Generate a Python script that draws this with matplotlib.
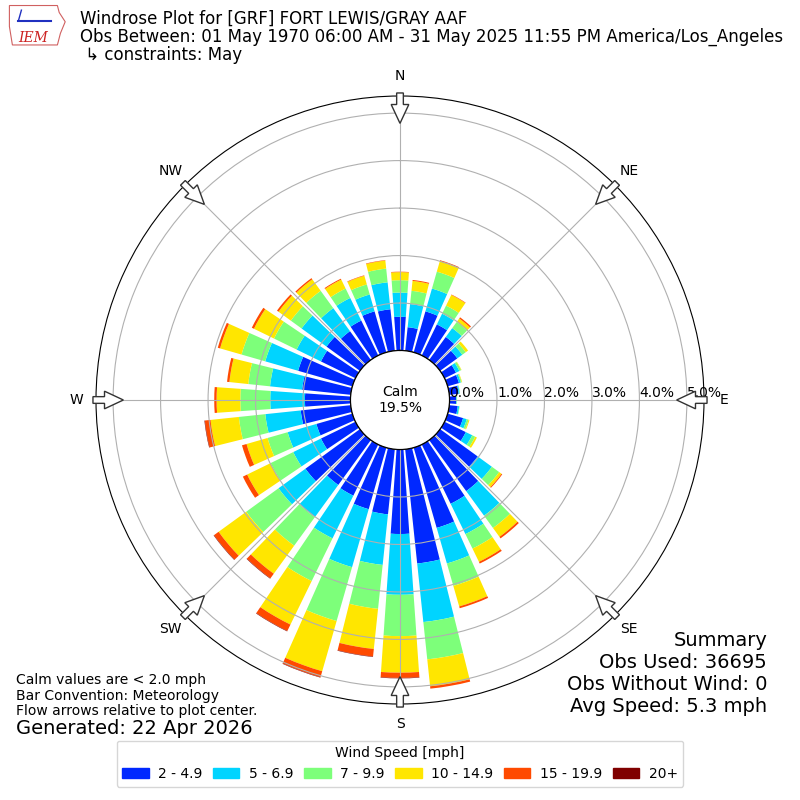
import numpy as np
import matplotlib
matplotlib.use("Agg")
import matplotlib.pyplot as plt
from matplotlib.patches import Patch, FancyArrow, Polygon

# wind directions (deg, meteorological) and the share [%] of each speed bin
directions = list(range(0, 360, 10))
speed_labels = ["2 - 4.9", "5 - 6.9", "7 - 9.9", "10 - 14.9", "15 - 19.9", "20+"]
speed_colors = ["#0028ff", "#00d4ff", "#7dff7a", "#ffe600", "#ff4a00", "#800000"]

s_2_5 = [0.71, 0.50, 0.90, 0.73, 0.60, 0.45, 0.27, 0.25, 0.20, 0.14, 0.18, 0.34,
         0.50, 0.98, 1.33, 1.39, 1.76, 2.42, 1.78, 1.38, 1.35, 1.20, 1.17, 1.42,
         0.81, 0.79, 1.06, 0.96, 1.03, 1.19, 0.81, 0.87, 0.75, 0.82, 0.90, 0.88]
s_5_7 = [0.51, 0.49, 0.50, 0.25, 0.23, 0.13, 0.08, 0.04, 0.02, 0.01, 0.03, 0.08,
         0.15, 0.37, 0.64, 0.71, 0.78, 1.24, 1.28, 1.07, 1.27, 1.00, 0.84, 0.70,
         0.65, 0.63, 0.75, 0.73, 0.68, 0.72, 0.57, 0.65, 0.60, 0.53, 0.37, 0.57]
s_7_10 = [0.26, 0.28, 0.37, 0.19, 0.16, 0.09, 0.04, 0.02, 0.01, 0.01, 0.01, 0.04,
          0.07, 0.19, 0.32, 0.34, 0.49, 0.79, 0.87, 0.93, 1.18, 1.00, 0.74, 0.84,
          0.53, 0.44, 0.56, 0.63, 0.46, 0.52, 0.53, 0.28, 0.45, 0.22, 0.22, 0.29]
s_10_15 = [0.17, 0.21, 0.23, 0.25, 0.09, 0.06, 0.01, 0.01, 0.00, 0.00, 0.00, 0.02,
           0.04, 0.06, 0.23, 0.31, 0.45, 0.57, 0.77, 0.85, 1.10, 1.02, 0.73, 0.72,
           0.55, 0.46, 0.60, 0.50, 0.40, 0.47, 0.47, 0.32, 0.30, 0.21, 0.19, 0.17]
s_15_20 = [0.01, 0.02, 0.02, 0.01, 0.03, 0.00, 0.00, 0.00, 0.00, 0.00, 0.00, 0.00,
           0.00, 0.02, 0.04, 0.04, 0.04, 0.05, 0.11, 0.16, 0.13, 0.15, 0.12, 0.12,
           0.10, 0.10, 0.12, 0.05, 0.05, 0.05, 0.05, 0.04, 0.03, 0.02, 0.01, 0.01]
s_20 = [0.00, 0.00, 0.00, 0.00, 0.00, 0.00, 0.00, 0.00, 0.00, 0.00, 0.00, 0.00,
        0.00, 0.00, 0.00, 0.00, 0.00, 0.00, 0.01, 0.01, 0.01, 0.01, 0.01, 0.01,
        0.00, 0.00, 0.01, 0.00, 0.00, 0.00, 0.00, 0.00, 0.00, 0.00, 0.00, 0.00]
bins = [s_2_5, s_5_7, s_7_10, s_10_15, s_15_20, s_20]

calm_pct = 19.5
ring_values = [0, 1, 2, 3, 4, 5]
compass = ["N", "NE", "E", "SE", "S", "SW", "W", "NW"]
compass_deg = [0, 45, 90, 135, 180, 225, 270, 315]

fig = plt.figure(figsize=(8, 8), dpi=100)
ax = fig.add_axes([0.12, 0.12, 0.76, 0.76], projection="polar")
ax.set_theta_zero_location("N")
ax.set_theta_direction(-1)

theta = np.radians(directions)
width = np.radians(8)
bottom = np.zeros(len(directions))
for vals, col in zip(bins, speed_colors):
    vals = np.array(vals)
    ax.bar(theta, vals, width=width, bottom=bottom, color=col, edgecolor="none", zorder=1)
    bottom = bottom + vals

rmax = 5.36
ax.set_ylim(0, rmax)
ax.set_rorigin(-1.042)

# calm circle
tt = np.linspace(0, 2 * np.pi, 300)
ax.plot(tt, np.zeros_like(tt), color="black", lw=1.0, zorder=3)
ax.text(0.5, 0.5, "Calm\n%.1f%%" % calm_pct, transform=ax.transAxes,
        ha="center", va="center", fontsize=10)

ax.set_thetagrids(compass_deg, labels=[""] * 8)
ax.set_rgrids(ring_values, labels=[""] * len(ring_values))
ax.grid(color="#b0b0b0", lw=0.8)
for r in ring_values:
    ax.text(np.pi / 2, r, "%.1f%%" % r, ha="left", va="bottom", fontsize=10)

# direction labels and inward flow arrows
for lab, d in zip(compass, compass_deg):
    a = np.radians(d)
    ux, uy = np.sin(a), np.cos(a)
    ax.text(0.5 + 0.533 * ux, 0.5 + 0.533 * uy, lab, transform=ax.transAxes,
            ha="center", va="center", fontsize=10)
    arr = FancyArrow(0.5 + 0.505 * ux, 0.5 + 0.505 * uy, -0.05 * ux, -0.05 * uy,
                     width=0.011, head_width=0.029, head_length=0.031,
                     length_includes_head=True, transform=ax.transAxes,
                     fc="white", ec="#333333", lw=1.0, clip_on=False, zorder=5)
    ax.add_patch(arr)

# titles
fig.text(0.1, 0.976, "Windrose Plot for [GRF] FORT LEWIS/GRAY AAF", fontsize=12, va="center")
fig.text(0.1, 0.954, "Obs Between: 01 May 1970 06:00 AM - 31 May 2025 11:55 PM America/Los_Angeles",
         fontsize=12, va="center")
fig.text(0.1, 0.931, " \u21b3 constraints: May", fontsize=12, va="center")

# rough IEM logo
logo = fig.add_axes([0.008, 0.938, 0.075, 0.058])
logo.axis("off")
logo.set_xlim(0, 1)
logo.set_ylim(0, 1)
logo.add_patch(Polygon([[0.05, 0.95], [0.85, 0.95], [0.88, 0.8], [0.98, 0.6], [0.9, 0.35],
                        [0.85, 0.1], [0.1, 0.1], [0.05, 0.5]], closed=True,
                       fill=False, ec="#d06060", lw=0.8))
logo.plot([0.2, 0.75], [0.62, 0.62], color="#2030c0", lw=1.5)
logo.plot([0.2, 0.25], [0.62, 0.85], color="#2030c0", lw=1)
logo.text(0.45, 0.25, "IEM", color="#cc2020", fontsize=10, family="DejaVu Serif",
          style="italic", ha="center", va="center")

# notes
fig.text(0.02, 0.15, "Calm values are < 2.0 mph", fontsize=10, va="center")
fig.text(0.02, 0.13, "Bar Convention: Meteorology", fontsize=10, va="center")
fig.text(0.02, 0.111, "Flow arrows relative to plot center.", fontsize=10, va="center")
fig.text(0.02, 0.089, "Generated: 22 Apr 2026", fontsize=14, va="center")

summary = ["Summary", "Obs Used: 36695", "Obs Without Wind: 0", "Avg Speed: 5.3 mph"]
for i, s in enumerate(summary):
    fig.text(0.959, 0.2 - i * 0.0275, s, fontsize=14, ha="right", va="center")

handles = [Patch(color=c, label=l) for c, l in zip(speed_colors, speed_labels)]
fig.legend(handles=handles, loc="lower center", bbox_to_anchor=(0.5, 0.008), ncol=6,
           title="Wind Speed [mph]", fontsize=10, title_fontsize=10,
           columnspacing=0.75, handletextpad=0.7, handlelength=1.9)

fig.savefig("out.png", dpi=100)
